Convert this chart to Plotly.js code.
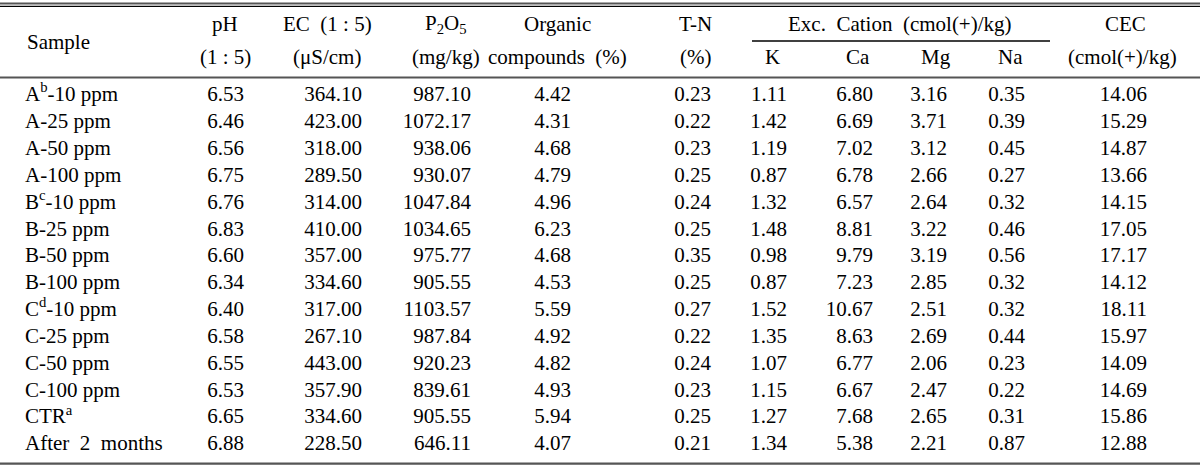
<!DOCTYPE html>
<html>
<head>
<meta charset="utf-8">
<script src="https://cdn.plot.ly/plotly-3.0.1.min.js"></script>
<style>html,body{margin:0;padding:0;background:#fff;}#chart{width:1200px;height:466px;}</style>
</head>
<body>
<div id="chart"></div>
<script>
// ---- Data ----
const samples = ["A<sup>b</sup>-10 ppm","A-25 ppm","A-50 ppm","A-100 ppm","B<sup>c</sup>-10 ppm","B-25 ppm","B-50 ppm","B-100 ppm","C<sup>d</sup>-10 ppm","C-25 ppm","C-50 ppm","C-100 ppm","CTR<sup>a</sup>","After  2  months"];
const pH   = [6.53,6.46,6.56,6.75,6.76,6.83,6.60,6.34,6.40,6.58,6.55,6.53,6.65,6.88];
const EC   = [364.10,423.00,318.00,289.50,314.00,410.00,357.00,334.60,317.00,267.10,443.00,357.90,334.60,228.50];
const P2O5 = [987.10,1072.17,938.06,930.07,1047.84,1034.65,975.77,905.55,1103.57,987.84,920.23,839.61,905.55,646.11];
const organic = [4.42,4.31,4.68,4.79,4.96,6.23,4.68,4.53,5.59,4.92,4.82,4.93,5.94,4.07];
const TN   = [0.23,0.22,0.23,0.25,0.24,0.25,0.35,0.25,0.27,0.22,0.24,0.23,0.25,0.21];
const K    = [1.11,1.42,1.19,0.87,1.32,1.48,0.98,0.87,1.52,1.35,1.07,1.15,1.27,1.34];
const Ca   = [6.80,6.69,7.02,6.78,6.57,8.81,9.79,7.23,10.67,8.63,6.77,6.67,7.68,5.38];
const Mg   = [3.16,3.71,3.12,2.66,2.64,3.22,3.19,2.85,2.51,2.69,2.06,2.47,2.65,2.21];
const Na   = [0.35,0.39,0.45,0.27,0.32,0.46,0.56,0.32,0.32,0.44,0.23,0.22,0.31,0.87];
const CEC  = [14.06,15.29,14.87,13.66,14.15,17.05,17.17,14.12,18.11,15.97,14.09,14.69,15.86,12.88];

const headerTop = ["pH","EC  (1 : 5)","P<sub>2</sub>O<sub>5</sub>","Organic","T-N","Exc.  Cation  (cmol(+)/kg)"];
const headerBottom = ["(1 : 5)","(μS/cm)","(mg/kg)","compounds  (%)","(%)","K","Ca","Mg","Na"];
const headerSample = "Sample";
const headerCEC = ["CEC","(cmol(+)/kg)"];

// ---- Layout constants (pixel coordinates) ----
const W = 1200, H = 466;
const FONT = "Liberation Serif, Times New Roman, serif";
const FS = 21;
const row0 = 96, rowStep = 26.85;
const rowY = samples.map((_, i) => row0 + i * rowStep);

const numCols = [
  {vals: pH, x: 244},
  {vals: EC, x: 362},
  {vals: P2O5, x: 471},
  {vals: organic, x: 571},
  {vals: TN, x: 711},
  {vals: K, x: 787},
  {vals: Ca, x: 873},
  {vals: Mg, x: 947},
  {vals: Na, x: 1025},
  {vals: CEC, x: 1147}
];

const traces = [];
traces.push({
  type: "scatter", mode: "text", x: rowY.map(() => 25), y: rowY,
  text: samples, textposition: "middle right",
  textfont: {family: FONT, size: FS, color: "#000"}, hoverinfo: "skip", showlegend: false
});
numCols.forEach(c => {
  traces.push({
    type: "scatter", mode: "text", x: rowY.map(() => c.x), y: rowY,
    text: c.vals.map(v => v.toFixed(2)), textposition: "middle left",
    textfont: {family: FONT, size: FS, color: "#000"}, hoverinfo: "skip", showlegend: false
  });
});

const yTop = 24, yBot = 57, yMid = 42;
const topX = [225, 327, 446, 557, 695, 900];
const botX = [225, 327, 446, 557, 695, 772, 858, 936, 1010];
const annotations = [];
const ann = (text, x, y, xanchor) => annotations.push({
  text, x, y, xref: "x", yref: "y", xanchor: xanchor || "center", yanchor: "middle",
  showarrow: false, font: {family: FONT, size: FS, color: "#000"}
});
ann(headerSample, 25, yMid, "left");
headerTop.forEach((t, i) => ann(t, topX[i], yTop));
headerBottom.forEach((t, i) => ann(t, botX[i], yBot));
ann(headerCEC[0], 1125, yTop);
ann(headerCEC[1], 1122, yBot);

const line = (x0, x1, y, w, c) => ({type: "line", xref: "x", yref: "y", x0, x1, y0: y, y1: y, line: {color: c, width: w}});
const shapes = [
  line(0, W, 3.5, 2.2, "#555"),
  line(0, W, 6.3, 1.3, "#000"),
  line(752, 1050, 41, 1.3, "#000"),
  line(0, W, 77.5, 2, "#555"),
  line(0, W, 463.7, 2.2, "#555")
];

const layout = {
  width: W, height: H,
  margin: {l: 0, r: 0, t: 0, b: 0, pad: 0},
  paper_bgcolor: "#fff", plot_bgcolor: "#fff",
  xaxis: {range: [0, W], visible: false, fixedrange: true},
  yaxis: {range: [H, 0], visible: false, fixedrange: true},
  showlegend: false,
  annotations, shapes
};

Plotly.newPlot("chart", traces, layout, {displayModeBar: false, staticPlot: true});
</script>
</body>
</html>
